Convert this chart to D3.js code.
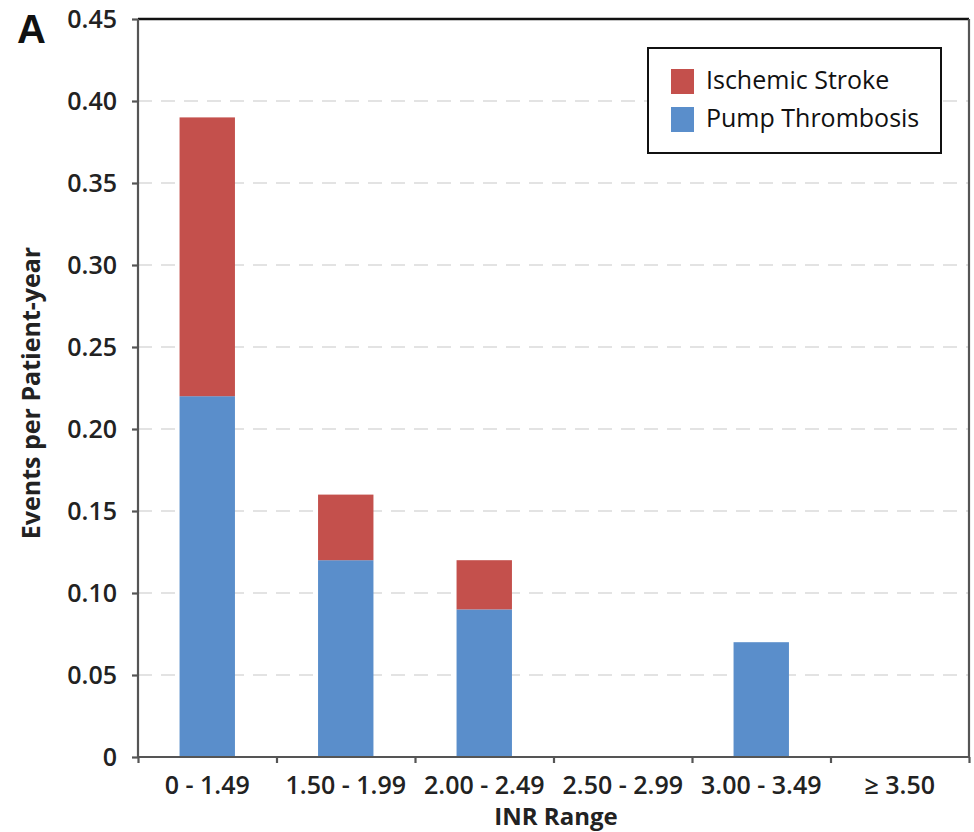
<!DOCTYPE html>
<meta charset="utf-8">
<style>
body { margin: 0; background: #fff; font-family: "Open Sans", sans-serif; }
.grid line { stroke: #c8c8c8; stroke-width: 1.2; stroke-dasharray: 14 9; }
.axis path, .axis line { stroke: #555; stroke-width: 2.2; }
.axis text { font-family: "Open Sans", sans-serif; font-size: 25px; font-weight: 600; fill: #222; }
</style>
<body>
<script src="https://d3js.org/d3.v7.min.js"></script>
<script>

// data
var categories = ["0 - 1.49", "1.50 - 1.99", "2.00 - 2.49", "2.50 - 2.99", "3.00 - 3.49", "\u2265 3.50"];
var pumpThrombosis = [0.22, 0.12, 0.09, 0, 0.07, 0];
var ischemicStroke = [0.17, 0.04, 0.03, 0, 0, 0];
var yTicks = [0, 0.05, 0.10, 0.15, 0.20, 0.25, 0.30, 0.35, 0.40, 0.45];
var seriesNames = ["Ischemic Stroke", "Pump Thrombosis"];
var seriesColors = ["#c4504c", "#5a8ecb"];

var margin = { left: 138, right: 5, top: 19, bottom: 75 };
var W = 974, H = 832;
var width = W - margin.left - margin.right,
    height = H - margin.top - margin.bottom;

var svg = d3.select("body").append("svg")
    .attr("width", W)
    .attr("height", H);

var g = svg.append("g")
    .attr("transform", "translate(" + margin.left + "," + margin.top + ")");

var x = d3.scaleBand().domain(categories).range([0, width]).padding(0);
var xEdges = d3.scaleLinear().domain([0, categories.length]).range([0, width]);
var y = d3.scaleLinear().domain([0, 0.45]).range([height, 0]);

// dashed gridlines
g.append("g").attr("class", "grid")
    .selectAll("line")
    .data(yTicks.filter(function(d){ return d > 0 && d < 0.45; }))
    .enter().append("line")
        .attr("x1", 0).attr("x2", width)
        .attr("y1", function(d){ return y(d); })
        .attr("y2", function(d){ return y(d); });

// stacked bars
var rows = categories.map(function(c, i){
    return { cat: c, pump: pumpThrombosis[i], stroke: ischemicStroke[i] };
});
var stack = d3.stack().keys(["pump", "stroke"])(rows);
var colorOf = { pump: seriesColors[1], stroke: seriesColors[0] };
var barW = x.bandwidth() * 0.4;

g.selectAll(".layer")
    .data(stack)
    .enter().append("g")
        .attr("class", "layer")
        .attr("fill", function(d){ return colorOf[d.key]; })
    .selectAll("rect")
    .data(function(d){ return d.filter(function(p){ return p[1] - p[0] > 0; }); })
    .enter().append("rect")
        .attr("x", function(d){ return x(d.data.cat) + (x.bandwidth() - barW) / 2; })
        .attr("width", barW)
        .attr("y", function(d){ return y(d[1]); })
        .attr("height", function(d){ return y(d[0]) - y(d[1]); });

// frame top and right
g.append("line").attr("x1", 0).attr("x2", width).attr("y1", 0).attr("y2", 0)
    .attr("stroke", "#111").attr("stroke-width", 2.5);
g.append("line").attr("x1", width).attr("x2", width).attr("y1", 0).attr("y2", height)
    .attr("stroke", "#555").attr("stroke-width", 2.2);

// y axis
var yAxis = g.append("g").attr("class", "axis")
    .call(d3.axisLeft(y).tickValues(yTicks).tickSize(6).tickPadding(15)
        .tickFormat(function(d){ return d === 0 ? "0" : d3.format(".2f")(d); }));
yAxis.select(".domain").attr("d", "M0," + height + "V0");

// x axis: tick marks at band edges, labels at centres
g.append("g").attr("class", "axis")
    .attr("transform", "translate(0," + height + ")")
    .call(d3.axisBottom(xEdges).ticks(categories.length).tickSize(6).tickFormat(""))
    .select(".domain").attr("d", "M0,0H" + width);

var xLab = g.append("g").attr("class", "axis")
    .attr("transform", "translate(0," + height + ")")
    .call(d3.axisBottom(x).tickSize(0).tickPadding(19));
xLab.select(".domain").remove();

// axis titles
svg.append("text")
    .attr("x", 556).attr("y", 825)
    .attr("text-anchor", "middle")
    .attr("font-size", "24px").attr("font-weight", "bold").attr("fill", "#222")
    .text("INR Range");

svg.append("text")
    .attr("transform", "translate(40,393) rotate(-90)")
    .attr("text-anchor", "middle")
    .attr("font-size", "25px").attr("font-weight", "bold").attr("fill", "#222")
    .text("Events per Patient-year");

// panel letter
svg.append("text")
    .attr("x", 17).attr("y", 43)
    .attr("font-size", "40px").attr("font-weight", "bold").attr("fill", "#111")
    .attr("font-family", "Liberation Sans, Arial, sans-serif")
    .text("A");

// legend
var legend = svg.append("g").attr("transform", "translate(648,48)");
legend.append("rect")
    .attr("width", 293).attr("height", 105)
    .attr("fill", "#fff").attr("stroke", "#111").attr("stroke-width", 2);
seriesNames.forEach(function(name, i){
    var row = legend.append("g").attr("transform", "translate(23," + (21 + i * 38) + ")");
    row.append("rect").attr("width", 23).attr("height", 25).attr("fill", seriesColors[i]);
    row.append("text")
        .attr("x", 35).attr("y", 20)
        .attr("font-size", "25px").attr("fill", "#111")
        .text(name);
});

</script>
</body>
